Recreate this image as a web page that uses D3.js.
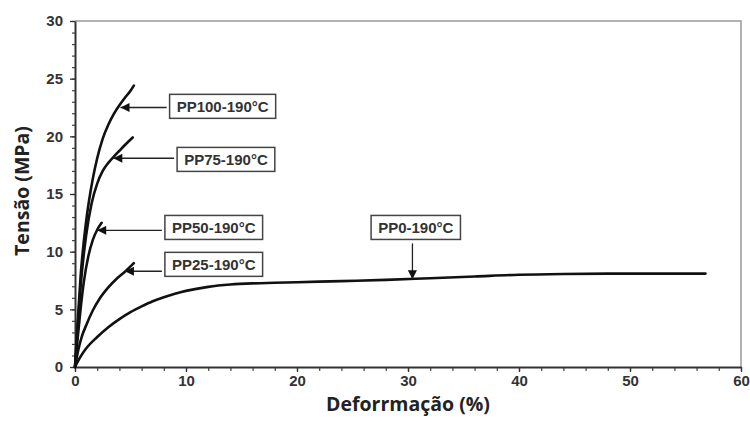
<!DOCTYPE html>
<html>
<head>
<meta charset="utf-8">
<script src="https://cdn.jsdelivr.net/npm/d3@7"></script>
<style>
	body { margin: 0; background: #fff; }
	svg { display: block; }
	.tick text { font-family: "Liberation Sans", Arial, sans-serif; font-weight: bold; font-size: 15px; fill: #333; }
	.title { font-family: "Open Sans", "DejaVu Sans", sans-serif; font-weight: bold; font-size: 19.5px; fill: #222; }
	.lbl { font-family: "Liberation Sans", Arial, sans-serif; font-weight: bold; font-size: 15px; fill: #333; }
</style>
</head>
<body>
<svg id="chart" width="750" height="434"></svg>
<script>
// stress-strain curves (strain %, stress MPa)
const pp0Strain  = [0, 0.5, 1, 2, 3, 4, 5, 6, 7, 8, 9, 10, 12, 14, 16, 18, 20, 24, 28, 32, 36, 40, 44, 48, 52, 56.8];
const pp0Stress  = [0, 0.9, 1.6, 2.6, 3.45, 4.15, 4.75, 5.25, 5.7, 6.05, 6.35, 6.6, 6.95, 7.15, 7.25, 7.3, 7.35, 7.45, 7.55, 7.7, 7.85, 8.0, 8.07, 8.1, 8.1, 8.1];
const pp25Strain = [0, 0.3, 0.6, 1, 1.6, 2.2, 3, 3.8, 4.6, 5.3];
const pp25Stress = [0, 1.5, 2.6, 3.6, 4.9, 5.9, 6.9, 7.7, 8.35, 9.0];
const pp50Strain = [0, 0.25, 0.5, 0.8, 1.2, 1.6, 2.0, 2.4];
const pp50Stress = [0, 2.6, 5.0, 7.4, 9.6, 11.0, 11.9, 12.5];
const pp75Strain = [0, 0.25, 0.5, 1, 1.5, 2, 2.5, 3, 3.5, 4, 4.5, 5.2];
const pp75Stress = [0, 3.6, 6.9, 11.4, 14.2, 15.9, 17.0, 17.7, 18.25, 18.75, 19.25, 19.9];
const pp100Strain = [0, 0.25, 0.5, 1, 1.6, 2, 2.5, 3, 3.5, 4, 4.5, 5, 5.3];
const pp100Stress = [0, 4.0, 7.8, 12.6, 16.3, 18.1, 19.8, 21.0, 21.95, 22.7, 23.35, 23.95, 24.4];

// annotation boxes: text, box centre and arrow tip in data units
const labelText = ["PP100-190°C", "PP75-190°C", "PP50-190°C", "PP25-190°C", "PP0-190°C"];
const labelX = [13.3, 13.6, 12.5, 12.5, 30.7];
const labelY = [22.6, 18.0, 12.1, 8.9, 12.1];
const tipX = [4.1, 3.45, 2.0, 4.5, 30.4];
const tipY = [22.5, 18.1, 11.85, 8.3, 7.6];
const arrowDown = [false, false, false, false, true];

const xTicks = [0, 10, 20, 30, 40, 50, 60];
const yTicks = [0, 5, 10, 15, 20, 25, 30];

const svg = d3.select("#chart");
const mLeft = 75, mRight = 741, mTop = 21, mBottom = 367;

const x = d3.scaleLinear().domain([0, 60]).range([mLeft, mRight]);
const y = d3.scaleLinear().domain([0, 30]).range([mBottom, mTop]);

svg.append("defs").append("marker")
	.attr("id", "head")
	.attr("viewBox", "0 0 10 10")
	.attr("refX", 10).attr("refY", 5)
	.attr("markerWidth", 11).attr("markerHeight", 9)
	.attr("markerUnits", "userSpaceOnUse")
	.attr("orient", "auto")
	.append("path").attr("d", "M0,0 L10,5 L0,10 Z").attr("fill", "#111");

// grey frame top + right
svg.append("path")
	.attr("d", `M${mLeft},${mTop} H${mRight} V${mBottom}`)
	.attr("fill", "none").attr("stroke", "#999").attr("stroke-width", 1.5);

// minor ticks
svg.append("g")
	.attr("transform", `translate(0,${mBottom})`)
	.call(d3.axisBottom(x).tickValues(d3.range(0, 61, 2)).tickSize(4).tickFormat(""))
	.call(g => g.select(".domain").remove())
	.selectAll("line").attr("stroke", "#444").attr("stroke-width", 1.2);
svg.append("g")
	.attr("transform", `translate(${mLeft},0)`)
	.call(d3.axisLeft(y).tickValues(d3.range(0, 31, 1)).tickSize(3).tickFormat(""))
	.call(g => g.select(".domain").remove())
	.selectAll("line").attr("stroke", "#444").attr("stroke-width", 1.2);

const xAxis = svg.append("g")
	.attr("transform", `translate(0,${mBottom})`)
	.call(d3.axisBottom(x).tickValues(xTicks).tickSize(5).tickPadding(3).tickSizeOuter(0));
const yAxis = svg.append("g")
	.attr("transform", `translate(${mLeft},0)`)
	.call(d3.axisLeft(y).tickValues(yTicks).tickSize(5).tickPadding(7).tickSizeOuter(0));
[xAxis, yAxis].forEach(a => {
	a.select(".domain").attr("stroke", "#333").attr("stroke-width", 2);
	a.selectAll(".tick line").attr("stroke", "#333").attr("stroke-width", 1.3);
});

svg.append("text").attr("class", "title")
	.attr("x", (mLeft + mRight) / 2).attr("y", 411)
	.attr("text-anchor", "middle")
	.text("Deforrmação (%)");
svg.append("text").attr("class", "title")
	.attr("transform", "translate(29,191) rotate(-90)")
	.attr("text-anchor", "middle")
	.text("Tensão (MPa)");

// curves
const line = d3.line()
	.x(d => x(d[0])).y(d => y(d[1]))
	.curve(d3.curveMonotoneX);

const series = [
	[pp0Strain, pp0Stress],
	[pp25Strain, pp25Stress],
	[pp50Strain, pp50Stress],
	[pp75Strain, pp75Stress],
	[pp100Strain, pp100Stress]
];
svg.append("g").selectAll("path")
	.data(series)
	.enter().append("path")
	.attr("d", s => line(d3.zip(s[0], s[1])))
	.attr("fill", "none")
	.attr("stroke", "#111")
	.attr("stroke-width", 2.6)
	.attr("stroke-linecap", "round");

// labels
const lab = svg.append("g").selectAll("g")
	.data(labelText)
	.enter().append("g");

lab.each(function(t, i) {
	const g = d3.select(this);
	const cx = x(labelX[i]), cy = y(labelY[i]);
	const txt = g.append("text").attr("class", "lbl")
		.attr("x", cx).attr("y", cy + 5.5)
		.attr("text-anchor", "middle")
		.text(t);
	const bb = txt.node().getBBox();
	const w = bb.width + 14, h = 24;
	g.insert("rect", "text")
		.attr("x", cx - w / 2).attr("y", cy - h / 2)
		.attr("width", w).attr("height", h)
		.attr("fill", "#fff").attr("stroke", "#444").attr("stroke-width", 1.5);
	let x1, y1;
	if (arrowDown[i]) {
		x1 = x(tipX[i]); y1 = cy + h / 2 + 4;
	} else {
		x1 = cx - w / 2 - 3; y1 = y(tipY[i]);
	}
	g.append("line")
		.attr("x1", x1).attr("y1", y1)
		.attr("x2", x(tipX[i])).attr("y2", y(tipY[i]))
		.attr("stroke", "#222").attr("stroke-width", 1.3)
		.attr("marker-end", "url(#head)");
});
</script>
</body>
</html>
